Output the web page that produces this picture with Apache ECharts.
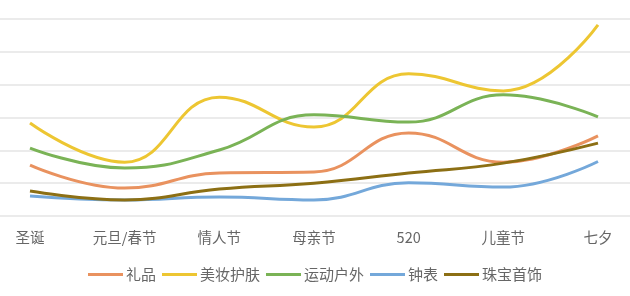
<!DOCTYPE html>
<html><head><meta charset="utf-8">
<script src="https://cdn.jsdelivr.net/npm/echarts@6/dist/echarts.min.js"></script>
<style>html,body{margin:0;padding:0;background:#fff}#c{width:630px;height:296px}</style>
</head><body><div id="c"></div>
<script>
var categories = ['圣诞','元旦/春节','情人节','母亲节','520','儿童节','七夕'];
var gifts    = [1.55, 0.85, 1.31, 1.34, 2.53, 1.64, 2.44];
var beauty   = [2.83, 1.64, 3.62, 2.71, 4.33, 3.81, 5.82];
var outdoor  = [2.07, 1.46, 2.01, 3.08, 2.86, 3.69, 3.02];
var watches  = [0.61, 0.49, 0.58, 0.49, 1.01, 0.88, 1.66];
var jewelry  = [0.76, 0.49, 0.82, 1.00, 1.31, 1.61, 2.22];
var names = ['礼品','美妆护肤','运动户外','钟表','珠宝首饰'];
var colors = ['#E9925F','#EDC632','#7AB356','#74A8DA','#8C6F14'];
var datas = [gifts, beauty, outdoor, watches, jewelry];

var chart = echarts.init(document.getElementById('c'));
chart.setOption({
  animation:false,
  grid:[
    {left:0, right:0, top:19, bottom:80},
    {left:30, right:32, top:19, bottom:80}
  ],
  legend:{top:262, left:'center', icon:'rect', itemWidth:35, itemHeight:3, itemGap:6,
    textStyle:{fontSize:15, color:'#666', padding:[0,0,0,-2], fontFamily:'Noto Sans CJK SC'},
    data:names},
  xAxis:[
    {type:'value', gridIndex:0, show:false, min:0, max:1},
    {type:'category', gridIndex:1, data:categories, boundaryGap:false,
    axisLine:{show:false}, axisTick:{show:false},
    axisLabel:{fontSize:14.5, color:'#666', margin:14, fontFamily:'Noto Sans CJK SC'}}
  ],
  yAxis:[
    {type:'value', gridIndex:0, min:0, max:6, interval:1, axisLabel:{show:false},
    axisLine:{show:false}, axisTick:{show:false},
    splitLine:{lineStyle:{color:'#E4E4E4', width:1.5}}},
    {type:'value', gridIndex:1, min:0, max:6, interval:1, axisLabel:{show:false},
    axisLine:{show:false}, axisTick:{show:false}, splitLine:{show:false}}
  ],
  series: names.map(function(n,i){return {
    name:n, type:'line', xAxisIndex:1, yAxisIndex:1, smooth:0.45, showSymbol:false, symbol:'none',
    data:datas[i], lineStyle:{width:3, color:colors[i]}, itemStyle:{color:colors[i]}
  };})
});
</script></body></html>
